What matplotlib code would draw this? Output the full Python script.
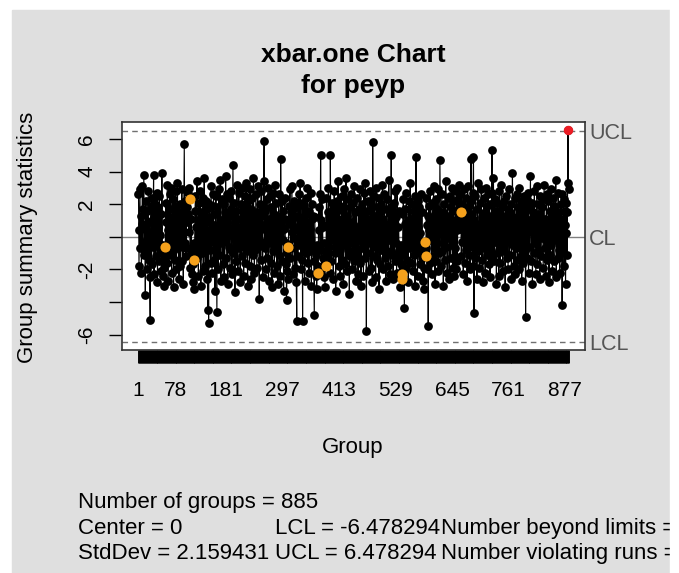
import matplotlib
matplotlib.use("Agg")
import matplotlib.pyplot as plt
from matplotlib.patches import Rectangle

plt.rcParams["font.family"] = ["Liberation Sans", "DejaVu Sans"]

# one value per group (approximate)
stats = [
    2.6, -1.8, 0.4, 2.9, -0.7, 1.3, -2.2, 0.8, 3.1, -0.3,
    1.7, 3.8, -1.1, 0.5, -3.6, 2.2, -0.9, 1.6, -2.0, 0.3,
    2.8, -1.4, 0.9, -2.5, -5.1, 1.9, 0.2, -1.7, 2.4, -0.6,
    1.1, 3.8, -2.3, 0.7, 2.0, -1.2, 1.5, -0.4, 2.7, -2.8,
    0.6, 1.8, -1.5, 2.5, -0.8, 0.1, 1.4, -2.1, 3.9, -1.0,
    -2.4, -0.5, -1.9, -3.0, -1.3, -0.6, 2.1, 0.9, -1.6, 3.2,
    0.4, -2.7, 1.7, -0.2, 2.6, -1.1, 0.8, 3.0, -2.2, 1.2,
    -0.9, 2.3, -3.1, 0.5, 1.9, -1.4, 2.8, 0.2, -2.0, 1.0,
    3.3, -0.7, 1.5, -2.6, 0.6, 2.0, -1.8, 1.3, -0.3, 2.9,
    -1.5, 0.9, -2.9, 1.6, 5.7, -0.4, 2.2, -1.2, -0.7, 1.8,
    0.9, 2.7, 1.4, 0.3, 3.0, 2.3, -1.9, -0.8, 1.1, -2.3,
    -0.6, -2.8, -1.7, -0.4, -3.2, -1.4, 1.6, 2.5, -0.9, 0.6,
    3.4, -1.3, 1.0, -2.4, 2.1, 0.2, -0.7, 2.8, -3.0, 1.5,
    -1.0, 0.8, 2.4, -2.1, 1.3, 3.6, -0.5, -1.8, 0.9, 2.2,
    -2.6, 1.7, -4.5, 0.4, -5.3, 2.0, -0.8, 1.2, -1.6, 3.1,
    0.5, -2.2, 1.9, -0.3, 2.6, -1.4, 0.7, -3.3, 1.4, 2.5,
    -0.9, -4.6, 1.8, 0.3, -2.0, 2.9, -1.1, 0.6, 3.5, -2.7,
    1.0, -0.4, 2.3, -1.7, 0.8, 2.0, -2.5, 1.5, -0.2, 3.7,
    -1.3, 0.9, 2.6, -2.9, 1.2, -0.6, 2.4, 0.1, -1.9, 1.7,
    2.8, -0.8, -2.3, 1.4, 4.4, -1.0, 0.5, 2.1, -3.4, 0.9,
    1.6, -1.5, 3.2, 0.2, -2.1, 1.1, 2.7, -0.7, 0.4, -2.8,
    2.0, 0.6, -1.2, 3.0, -0.3, 1.8, -2.4, 0.9, 2.5, -1.6,
    0.3, 3.3, -0.9, 1.4, -3.0, 2.2, -0.5, 1.0, -1.8, 2.9,
    -0.2, 1.7, -2.6, 0.8, 2.4, -1.1, 3.6, 0.5, -2.2, 1.3,
    -0.8, 2.6, 0.1, -1.9, 1.5, 3.1, -0.6, 0.9, -3.8, 2.0,
    1.2, -1.4, 2.8, -0.3, 0.7, -2.5, 1.9, 3.4, 5.9, -0.7,
    1.6, -2.0, 0.4, 2.3, -1.3, 0.9, 3.0, -2.7, 1.1, -0.4,
    2.5, 0.2, -1.6, 1.8, -3.1, 0.6, 2.7, -0.9, 1.4, -2.2,
    3.2, -0.5, 0.8, 2.1, -1.8, 1.3, -2.9, 0.3, 2.6, -1.1,
    1.0, -2.4, 4.8, 0.7, -1.5, 2.2, -0.2, 1.6, -3.3, 0.5,
    2.4, 1.1, -1.7, -0.4, -3.9, -2.1, -1.0, -2.6, -0.6, 1.9,
    0.8, 2.9, -1.3, 1.5, -0.7, 3.1, 0.3, -2.3, 1.7, -0.1,
    2.2, -1.9, 0.6, 1.3, -2.8, -5.2, 1.8, 0.4, -1.2, 2.6,
    -0.5, 1.0, 3.3, -2.0, 0.7, -1.4, 2.1, -5.2, 1.2, -0.8,
    1.9, -2.7, 0.2, 2.4, -1.0, 1.4, -0.3, 3.0, -1.6, 0.9,
    -2.2, 1.6, 0.5, -0.9, 2.7, -3.0, 1.1, 2.0, -0.6, 1.3,
    -1.5, -4.8, 1.2, -0.7, -2.4, -1.1, -3.2, -0.5, -1.8, -2.2,
    1.8, 0.4, 2.6, -0.8, 5.0, 1.0, -1.9, 2.3, 0.6, -1.3,
    -2.5, -0.4, -1.7, -3.1, -0.9, -1.8, 2.4, 0.7, -1.2, 1.5,
    3.0, -0.6, 1.2, -2.2, 5.0, 0.3, -1.5, 2.1, -0.2, 1.7,
    -2.6, 0.9, 2.8, -1.0, 1.4, -3.3, 0.5, 2.2, -0.7, 1.1,
    3.4, -1.8, 0.2, 1.9, -2.4, 0.8, -0.3, 2.5, -1.4, 0.6,
    1.6, -2.9, 2.9, -0.5, 1.0, -1.7, 3.6, 0.1, -2.1, 1.3,
    -0.8, 2.3, 0.7, -3.5, 1.8, -1.2, 2.6, -0.4, 0.9, -2.0,
    2.1, 0.3, -1.5, 3.1, -0.9, 1.5, -2.7, 0.6, 2.4, -1.1,
    0.4, -2.3, 1.7, -0.2, 2.9, -1.6, 0.8, -3.0, 1.2, 2.0,
    -0.7, 1.4, -2.4, 2.7, 0.2, -1.3, 3.3, 0.9, -5.8, 1.6,
    -1.0, 2.2, 0.5, -2.1, 1.1, -0.4, 2.8, -1.9, 0.7, 1.9,
    -2.8, 5.8, 0.3, -1.2, 2.5, -0.6, 1.3, -2.5, 3.0, 0.1,
    -1.4, 1.8, -0.3, 2.4, -3.2, 0.9, 1.5, -1.7, 2.0, -0.8,
    0.6, 3.2, -2.0, 1.1, -0.5, 2.6, -1.3, 0.4, -2.7, 1.7,
    2.3, -0.9, 0.8, -1.8, 3.5, -0.2, 1.4, -2.3, 0.5, 5.0,
    -1.1, 1.9, 0.2, -2.6, 2.1, 0.7, -1.5, 2.8, -0.4, 1.2,
    -2.2, 3.0, 0.6, -1.0, 1.6, -0.8, -2.5, -1.2, -3.1, -0.5,
    -1.7, -2.3, -2.6, 1.4, 2.3, -0.9, -4.4, 0.8, 1.7, -1.9,
    2.7, 0.3, -1.4, 1.0, -2.8, 2.2, 0.5, -0.7, 3.3, -1.6,
    1.1, -0.3, 2.0, -2.1, 0.9, 1.6, -1.1, 2.5, -3.0, 0.4,
    4.9, -1.0, 1.3, -2.4, 0.6, 2.2, -0.5, 1.8, -1.7, 0.2,
    2.6, -0.8, 1.5, -1.3, -2.7, -0.4, -1.9, -3.2, -0.9, -0.3,
    -1.2, 2.4, 0.7, -2.0, 1.3, -5.5, 1.9, 0.4, -1.6, 2.8,
    -0.2, 1.0, -2.3, 2.1, 0.6, -1.2, 3.1, -0.7, 1.4, -2.9,
    0.8, 2.3, -1.5, 1.7, -0.4, 2.9, -2.1, 0.3, -1.0, 4.7,
    1.2, -1.8, 0.5, 2.6, -0.9, 1.5, -3.0, 0.9, 2.0, -1.4,
    0.2, 3.4, -0.6, 1.1, -2.2, 2.4, -0.1, 1.3, -2.6, 0.7,
    2.5, -1.3, 1.8, -0.5, 3.0, -1.9, 0.6, 2.2, -2.4, 1.0,
    -0.7, 1.6, -2.0, 2.8, 0.4, -1.5, 2.3, 0.8, 3.2, 1.1,
    2.6, 0.5, 1.5, -1.2, 2.0, -0.3, 1.7, -2.3, 0.9, 2.9,
    -1.6, 0.6, 2.4, -0.8, 1.2, -2.7, 3.1, 0.2, -1.1, 1.9,
    0.7, -2.0, 2.2, 4.8, -0.6, 1.4, -1.8, 2.7, 4.9, -4.7,
    1.0, -1.3, 2.5, -0.2, 0.8, -2.6, 1.7, 3.3, -0.9, 0.4,
    -1.9, 2.1, 0.6, -0.5, 2.9, -1.4, 1.2, -2.8, 0.9, 2.4,
    -0.7, 1.5, -2.2, 3.0, 0.3, -1.1, 1.9, -0.4, 2.6, -1.7,
    0.5, 2.0, -2.5, 1.3, -0.8, 2.7, 5.3, -1.2, 0.7, 3.6,
    -1.5, 0.9, 2.3, -0.3, 1.6, -2.9, 0.4, 2.1, -1.0, 1.4,
    -2.4, 2.8, 0.1, -1.6, 1.0, 3.2, -0.6, 1.8, -2.1, 0.6,
    2.2, -0.9, 1.3, -3.1, 0.8, 2.5, -1.3, 0.2, 1.7, -2.0,
    0.4, 2.9, -1.1, 1.5, -0.2, 2.0, -2.6, 1.1, 3.9, -0.5,
    1.2, -1.8, 0.6, 2.4, -2.3, 0.9, -0.7, 2.6, -1.4, 1.8,
    -0.3, 3.0, -2.0, 0.7, 1.4, -1.2, 2.2, -2.7, 0.5, 1.6,
    -1.6, 2.5, 0.2, -0.9, 1.9, -4.9, 0.8, 2.3, -1.3, 0.3,
    2.7, -2.2, 1.0, -0.6, 1.7, 3.7, -1.5, 0.4, 2.1, -2.9,
    0.9, 1.5, -1.0, 2.8, -0.4, 1.2, -2.3, 0.6, 3.1, -1.7,
    0.2, 2.0, -0.8, 1.4, -2.6, 2.5, 0.7, -1.2, 1.8, -0.1,
    2.3, -1.9, 0.5, 3.2, -0.7, 1.1, -2.4, 0.8, 2.6, -1.4,
    1.0, -0.3, 2.2, -2.8, 0.6, 1.6, -1.1, 2.9, -0.5, 1.3,
    -2.1, 0.4, 2.4, -1.5, 1.9, -0.2, 0.9, 3.5, -2.5, 1.2,
    0.6, -1.3, 2.7, -0.8, 1.5, -2.2, 0.3, 2.0, -1.0, 2.6,
    -4.2, 1.1, -0.6, 2.3, -1.8, 0.7, 1.6, -2.9, 0.2, 2.1,
    -1.1, 1.5, 6.55, 3.3, 2.9,
]
groups = list(range(1, len(stats) + 1))

center = 0
std_dev = 2.159431
lcl = -6.478294
ucl = 6.478294
violating = [56, 106, 116, 309, 370, 386, 542, 543, 590, 591, 663]
beyond = [883]

xtick_groups = [1, 78, 181, 297, 413, 529, 645, 761, 877]
ytick_values = [-6, -4, -2, 0, 2, 4, 6]
ytick_labels = ["-6", "", "-2", "", "2", "4", "6"]

W, H = 679, 573


def fx(px):
    return px / W


def fy(py):
    return 1 - py / H


fig = plt.figure(figsize=(W / 100, H / 100), dpi=100, facecolor="white")
fig.add_artist(Rectangle((fx(12), 0), fx(670) - fx(12), fy(10),
                         transform=fig.transFigure, color="#dfdfdf", zorder=-1))

ax = fig.add_axes([fx(121.7), fy(350), fx(585) - fx(121.7), fy(121.7) - fy(350)])
ax.set_facecolor("white")

ax.axhline(center, color="#808080", lw=1, zorder=1)
ax.axhline(ucl, color="#707070", lw=1, ls=(0, (4, 3)), zorder=1)
ax.axhline(lcl, color="#707070", lw=1, ls=(0, (4, 3)), zorder=1)

ax.plot(groups, stats, color="black", lw=0.8, zorder=2)
ax.plot(groups, stats, "o", color="black", ms=6.3, mew=0, zorder=3)
ax.plot(violating, [stats[g - 1] for g in violating], "o", color="#f5a11c",
        ms=7.3, mew=0, zorder=4)
ax.plot(beyond, [stats[g - 1] for g in beyond], "o", color="#ec1c24",
        ms=6.8, mew=0, zorder=4)

ax.set_xlim(-33.5, 918)
ax.set_ylim(-6.95, 7.06)

ax.set_xticks(xtick_groups)
ax.set_xticklabels([str(g) for g in xtick_groups])
ax.set_xticks(groups, minor=True)
ax.tick_params(axis="x", which="both", length=9.4, width=0.7, pad=13,
               labelsize=15, color="black")
ax.set_yticks(ytick_values)
ax.set_yticklabels(ytick_labels, rotation=90, va="center")
ax.tick_params(axis="y", length=9.4, width=1, pad=9, labelsize=15)
for sp in ax.spines.values():
    sp.set_color("#333333")
    sp.set_linewidth(1.2)

for val, name in [(ucl, "UCL"), (center, "CL"), (lcl, "LCL")]:
    ax.annotate(name, xy=(1, val), xycoords=("axes fraction", "data"),
                xytext=(3, 0), textcoords="offset points", ha="left",
                va="center_baseline", fontsize=15.5, color="#555555",
                annotation_clip=False)

fig.text(fx(353), fy(62), "xbar.one Chart", ha="center", va="baseline",
         fontsize=19, weight="bold")
fig.text(fx(353), fy(93), "for peyp", ha="center", va="baseline",
         fontsize=19, weight="bold")
fig.text(fx(353), fy(447), "Group", ha="center", va="center", fontsize=16)
fig.text(fx(28), fy(237), "Group summary statistics", ha="center",
         va="center", rotation=90, fontsize=16)

fig.text(fx(78), fy(508), f"Number of groups = {len(stats)}", fontsize=16)
fig.text(fx(78), fy(534), f"Center = {center}", fontsize=16)
fig.text(fx(275), fy(534), f"LCL = {lcl}", fontsize=16)
fig.text(fx(441), fy(534), f"Number beyond limits = {len(beyond)}", fontsize=16)
fig.text(fx(78), fy(559), f"StdDev = {std_dev}", fontsize=16)
fig.text(fx(275), fy(559), f"UCL = {ucl}", fontsize=16)
fig.text(fx(441), fy(559), f"Number violating runs = {len(violating)}", fontsize=16)

# the original is cut off on the right
fig.add_artist(Rectangle((fx(670), 0), 1 - fx(670), 1,
                         transform=fig.transFigure, color="white", zorder=10))

fig.savefig("out.png", dpi=100, facecolor="white")
